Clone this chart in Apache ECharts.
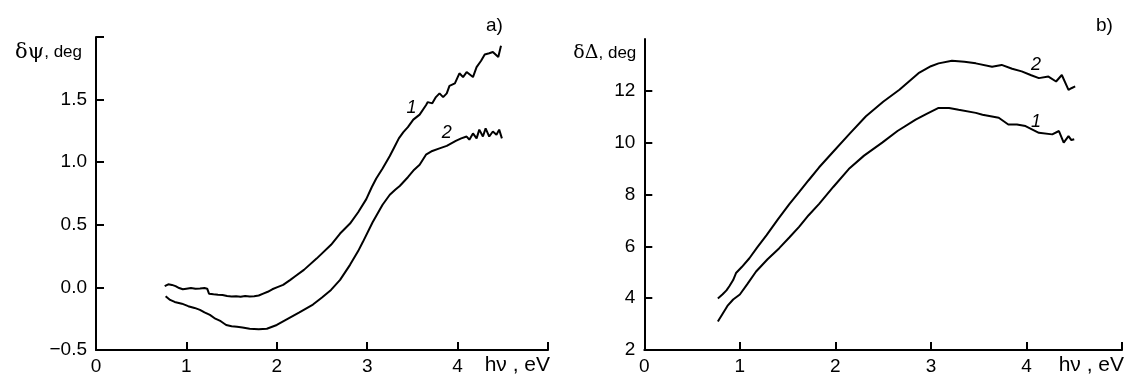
<!DOCTYPE html>
<html>
<head>
<meta charset="utf-8">
<script src="https://cdn.jsdelivr.net/npm/echarts@6/dist/echarts.min.js"></script>
<style>
html,body{margin:0;padding:0;background:#fff;}
#chart{width:1127px;height:376px;}
</style>
</head>
<body>
<div id="chart"></div>
<script>
// Panel a) δψ vs hν
var psi1X = [0.76,0.80,0.84,0.88,0.92,0.96,1.00,1.05,1.10,1.15,1.20,1.23,1.25,1.30,1.35,1.40,1.45,1.50,1.55,1.60,1.65,1.70,1.75,1.80,1.85,1.90,1.95,2.00,2.07,2.15,2.20,2.30,2.44,2.60,2.70,2.81,2.90,2.99,3.05,3.10,3.17,3.25,3.30,3.35,3.40,3.45,3.51,3.58,3.65,3.67,3.72,3.76,3.80,3.84,3.88,3.91,3.97,4.02,4.06,4.10,4.17,4.21,4.26,4.30,4.35,4.39,4.45,4.48];
var psi1Y = [0.01,0.025,0.02,0.01,-0.005,-0.015,-0.01,-0.005,-0.01,-0.008,-0.005,-0.01,-0.05,-0.055,-0.058,-0.06,-0.068,-0.072,-0.07,-0.074,-0.068,-0.072,-0.07,-0.065,-0.05,-0.035,-0.015,0.0,0.02,0.06,0.087,0.14,0.23,0.34,0.43,0.51,0.60,0.705,0.80,0.87,0.95,1.05,1.12,1.19,1.24,1.28,1.34,1.38,1.455,1.48,1.47,1.52,1.55,1.52,1.55,1.61,1.63,1.71,1.68,1.72,1.68,1.76,1.81,1.86,1.87,1.88,1.84,1.93];
var psi2X = [0.77,0.82,0.87,0.95,1.02,1.09,1.15,1.20,1.26,1.32,1.38,1.44,1.50,1.56,1.62,1.70,1.80,1.89,2.00,2.11,2.25,2.40,2.50,2.60,2.70,2.81,2.90,2.95,3.06,3.17,3.25,3.31,3.36,3.45,3.52,3.58,3.65,3.72,3.80,3.88,3.98,4.04,4.10,4.13,4.17,4.21,4.24,4.28,4.31,4.35,4.39,4.43,4.46,4.49];
var psi2Y = [-0.07,-0.10,-0.116,-0.13,-0.15,-0.164,-0.18,-0.20,-0.22,-0.25,-0.27,-0.30,-0.31,-0.315,-0.32,-0.33,-0.335,-0.33,-0.30,-0.256,-0.20,-0.137,-0.08,-0.02,0.06,0.18,0.29,0.36,0.52,0.66,0.74,0.78,0.81,0.88,0.94,0.98,1.06,1.09,1.11,1.13,1.17,1.19,1.205,1.18,1.23,1.19,1.26,1.205,1.27,1.205,1.245,1.22,1.26,1.19];
// Panel b) δΔ vs hν
var del1X = [0.77,0.82,0.87,0.93,1.00,1.08,1.17,1.29,1.41,1.52,1.62,1.72,1.83,1.98,2.14,2.30,2.49,2.65,2.84,2.95,3.08,3.19,3.29,3.47,3.54,3.71,3.81,3.90,3.99,4.13,4.27,4.34,4.39,4.44,4.47,4.50];
var del1Y = [3.10,3.40,3.70,3.95,4.14,4.55,5.03,5.50,5.92,6.35,6.75,7.20,7.64,8.30,8.98,9.50,10.00,10.45,10.89,11.10,11.34,11.34,11.27,11.15,11.08,10.96,10.70,10.70,10.64,10.38,10.32,10.45,10.00,10.25,10.10,10.13];
var del2X = [0.77,0.82,0.86,0.89,0.93,0.96,1.02,1.10,1.18,1.28,1.40,1.52,1.62,1.72,1.83,1.97,2.15,2.32,2.50,2.67,2.87,3.00,3.08,3.22,3.35,3.47,3.64,3.74,3.85,3.95,4.05,4.13,4.23,4.31,4.37,4.44,4.47,4.51];
var del2Y = [3.99,4.15,4.30,4.46,4.70,4.97,5.20,5.54,5.95,6.43,7.05,7.64,8.09,8.55,9.05,9.62,10.35,11.02,11.58,12.04,12.68,12.95,13.06,13.16,13.12,13.06,12.93,13.00,12.85,12.75,12.60,12.49,12.55,12.36,12.61,12.04,12.10,12.17];
var xTicks = [0,1,2,3,4,5];
var psiTicks = [-0.5,0,0.5,1.0,1.5,2.0];
var delTicks = [2,4,6,8,10,12];

function zip(xs, ys){ return xs.map(function(x,i){ return [x, ys[i]]; }); }

var SANS = 'Liberation Sans, Arial, sans-serif';
var SERIF = 'DejaVu Serif, Liberation Serif, serif';
var axisLine = {show:true, onZero:false, lineStyle:{color:'#000', width:2}};

function tick(vals){ return {show:true, inside:true, length:8, lineStyle:{color:'#000', width:2}, customValues:vals}; }

function xAxisFor(gi){
  return {
    type:'value', gridIndex:gi, min:0, max:5, interval:1,
    axisLine:axisLine, axisTick:tick(xTicks), splitLine:{show:false},
    axisLabel:{color:'#000', fontFamily:SANS, fontSize:19, margin:7, customValues:xTicks.slice(0,5)},
    name:'hν , eV', nameLocation:'end', nameGap:2,
    nameTextStyle:{color:'#000', fontFamily:SANS, fontSize:21, align:'right', verticalAlign:'top', padding:[5,0,0,0]}
  };
}

function curveLabel(txt, coord){
  return {symbol:'circle', symbolSize:1, itemStyle:{color:'rgba(0,0,0,0)'},
    label:{show:true, position:'inside', color:'#000', fontFamily:SANS, fontStyle:'italic', fontSize:18, formatter:txt},
    data:[{coord:coord}]};
}

var option = {
  animation:false,
  backgroundColor:'#fff',
  grid:[
    {left:96, top:37, width:452, bottom:24.3, containLabel:false},
    {left:644.3, top:39, width:479.7, bottom:23.3, containLabel:false}
  ],
  xAxis:[xAxisFor(0), xAxisFor(1)],
  yAxis:[
    {type:'value', gridIndex:0, min:-0.5, max:2, interval:0.5,
     axisLine:axisLine, axisTick:tick(psiTicks), splitLine:{show:false},
     axisLabel:{color:'#000', fontFamily:SANS, fontSize:19, margin:9,
       customValues:psiTicks.slice(0,5),
       formatter:function(v){ return v<0 ? '\u2212'+Math.abs(v).toFixed(1) : v.toFixed(1); }},
     name:'{g|δψ}{t|, deg}', nameLocation:'end', nameGap:-5,
     nameTextStyle:{align:'right', verticalAlign:'top', padding:[0,14,0,0],
       rich:{g:{fontFamily:SERIF, fontSize:21, color:'#000'}, t:{fontFamily:SANS, fontSize:17, color:'#000'}}}
    },
    {type:'value', gridIndex:1, min:2, max:14, interval:2,
     axisLine:axisLine, axisTick:tick(delTicks), splitLine:{show:false},
     axisLabel:{color:'#000', fontFamily:SANS, fontSize:19, margin:9, customValues:delTicks},
     name:'{g|δΔ}{t|, deg}', nameLocation:'end', nameGap:-5,
     nameTextStyle:{align:'right', verticalAlign:'top', padding:[0,8,0,0],
       rich:{g:{fontFamily:SERIF, fontSize:19, color:'#000'}, t:{fontFamily:SANS, fontSize:17, color:'#000'}}}
    }
  ],
  series:[
    {type:'line', name:'1', xAxisIndex:0, yAxisIndex:0, data:zip(psi1X,psi1Y), showSymbol:false, symbol:'none',
     lineStyle:{color:'#000', width:2}, markPoint:curveLabel('1',[3.49,1.43])},
    {type:'line', name:'2', xAxisIndex:0, yAxisIndex:0, data:zip(psi2X,psi2Y), showSymbol:false, symbol:'none',
     lineStyle:{color:'#000', width:2}, markPoint:curveLabel('2',[3.88,1.23])},
    {type:'line', name:'1', xAxisIndex:1, yAxisIndex:1, data:zip(del1X,del1Y), showSymbol:false, symbol:'none',
     lineStyle:{color:'#000', width:2}, markPoint:curveLabel('1',[4.10,10.78])},
    {type:'line', name:'2', xAxisIndex:1, yAxisIndex:1, data:zip(del2X,del2Y), showSymbol:false, symbol:'none',
     lineStyle:{color:'#000', width:2}, markPoint:curveLabel('2',[4.10,13.0])}
  ],
  graphic:[
    {type:'text', left:486, top:16, style:{text:'a)', fontFamily:SANS, fontSize:19, fill:'#000'}},
    {type:'text', left:1096, top:16, style:{text:'b)', fontFamily:SANS, fontSize:19, fill:'#000'}}
  ]
};

var chart = echarts.init(document.getElementById('chart'), null, {renderer:'canvas'});
chart.setOption(option);
</script>
</body>
</html>
